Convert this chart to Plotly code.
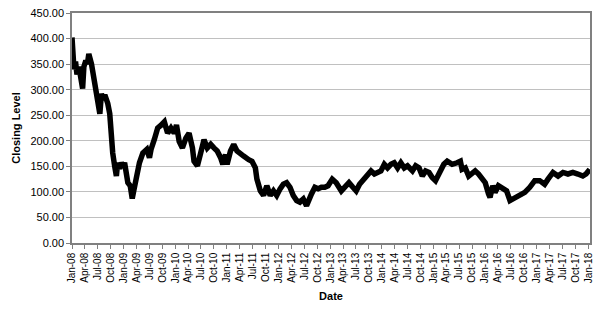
import plotly.graph_objects as go

dates = [
    "2008-01-01", "2008-01-15", "2008-01-26", "2008-02-05", "2008-02-19", "2008-03-04",
    "2008-03-16", "2008-03-25", "2008-04-08", "2008-04-19", "2008-04-29", "2008-05-18",
    "2008-05-31", "2008-06-10", "2008-07-02", "2008-07-16", "2008-07-27", "2008-08-09",
    "2008-08-20", "2008-09-10", "2008-09-24", "2008-10-06", "2008-10-15", "2008-10-29",
    "2008-11-10", "2008-11-19", "2008-12-03", "2008-12-15", "2008-12-28", "2009-01-07",
    "2009-01-19", "2009-01-30", "2009-02-16", "2009-03-02", "2009-03-15", "2009-03-30",
    "2009-04-22", "2009-05-16", "2009-06-13", "2009-07-02", "2009-07-13", "2009-08-06",
    "2009-08-29", "2009-09-20", "2009-10-15", "2009-11-07", "2009-12-01", "2009-12-24",
    "2010-01-09", "2010-01-28", "2010-02-20", "2010-03-16", "2010-04-08", "2010-05-02",
    "2010-05-13", "2010-06-06", "2010-06-29", "2010-07-23", "2010-08-15", "2010-09-08",
    "2010-10-01", "2010-10-24", "2010-11-17", "2010-12-03", "2010-12-22", "2011-01-02",
    "2011-01-26", "2011-02-18", "2011-03-13", "2011-04-06", "2011-04-29", "2011-06-04",
    "2011-06-27", "2011-07-21", "2011-08-01", "2011-08-25", "2011-09-17", "2011-10-10",
    "2011-11-03", "2011-11-26", "2011-12-19", "2012-01-12", "2012-02-04", "2012-02-27",
    "2012-03-22", "2012-04-14", "2012-05-08", "2012-05-31", "2012-06-24", "2012-07-17",
    "2012-07-29", "2012-08-21", "2012-09-14", "2012-10-07", "2012-10-30", "2012-11-23",
    "2012-12-16", "2013-01-15", "2013-02-12", "2013-03-20", "2013-04-12", "2013-05-13",
    "2013-06-10", "2013-07-03", "2013-07-27", "2013-08-19", "2013-09-23", "2013-10-16",
    "2013-11-09", "2013-12-02", "2013-12-25", "2014-01-18", "2014-02-10", "2014-03-06",
    "2014-03-29", "2014-04-22", "2014-05-15", "2014-06-08", "2014-07-01", "2014-08-05",
    "2014-08-28", "2014-09-21", "2014-10-14", "2014-11-06", "2014-11-30", "2014-12-23",
    "2015-01-15", "2015-02-08", "2015-03-15", "2015-04-08", "2015-05-13", "2015-06-17",
    "2015-07-10", "2015-07-22", "2015-08-14", "2015-09-07", "2015-09-30", "2015-10-23",
    "2015-11-16", "2015-12-09", "2016-01-02", "2016-01-25", "2016-02-05", "2016-02-24",
    "2016-03-11", "2016-04-04", "2016-04-27", "2016-06-01", "2016-06-25", "2016-07-30",
    "2016-09-03", "2016-10-08", "2016-11-12", "2016-12-17", "2017-01-21", "2017-02-25",
    "2017-03-21", "2017-04-25", "2017-05-31", "2017-07-05", "2017-08-09", "2017-09-13",
    "2017-10-18", "2017-11-22", "2017-12-15", "2018-01-10",
]

closing = [
    402, 340, 355, 330, 345, 320,
    302, 345, 357, 350, 370, 350,
    330, 311, 286, 253, 292, 280,
    290, 273, 253, 203, 176, 150,
    131, 157, 145, 157, 150, 157,
    131, 118, 112, 87, 105, 131,
    157, 176, 183, 167, 183, 203,
    225, 230, 237, 215, 225, 215,
    231, 199, 186, 205, 215, 186,
    160, 151, 180, 202, 186, 193,
    186, 180, 167, 154, 173, 154,
    180, 193, 180, 173, 170, 163,
    160, 147, 125, 102, 93, 112,
    93, 102, 93, 106, 115, 118,
    109, 93, 83, 80, 86, 73,
    83, 96, 109, 106, 109, 109,
    112, 125, 118, 102, 109, 118,
    109, 102, 115, 122, 135, 141,
    135, 138, 141, 154, 147, 154,
    157, 147, 157, 147, 151, 141,
    151, 147, 131, 141, 138, 128,
    122, 135, 154, 160, 154, 157,
    160, 144, 147, 131, 138, 141,
    135, 128, 118, 96, 89, 112,
    99, 112, 109, 102, 83, 89,
    96, 99, 109, 122, 122, 115,
    125, 138, 131, 138, 135, 138,
    135, 131, 135, 144,
]

y_ticks = [0, 50, 100, 150, 200, 250, 300, 350, 400, 450]

font_family = "Liberation Sans, Arial, sans-serif"

fig = go.Figure()
fig.add_trace(go.Scatter(
    x=dates, y=closing, mode="lines",
    line=dict(color="black", width=5.5),
    showlegend=False,
))

fig.update_layout(
    width=601, height=316,
    margin=dict(l=72, r=7, t=10, b=73),
    paper_bgcolor="white", plot_bgcolor="white",
    font=dict(family=font_family, size=10, color="black"),
    xaxis=dict(
        type="date",
        range=["2008-01-01", "2018-01-12"],
        tick0="2008-01-01", dtick="M3", tickformat="%b-%y",
        tickangle=-90, ticks="outside", ticklen=4, tickcolor="#808080",
        showline=True, linecolor="#808080", linewidth=1.5, mirror=True,
        showgrid=False, zeroline=False,
        title=dict(text="<b>Date</b>", font=dict(size=11), standoff=10),
        tickfont=dict(size=10),
    ),
    yaxis=dict(
        range=[0, 450], tickvals=y_ticks, tickformat=".2f",
        ticks="outside", ticklen=4, tickcolor="#808080",
        showline=True, linecolor="#808080", linewidth=1.5, mirror=True,
        showgrid=True, gridcolor="#c0c0c0", gridwidth=1,
        zeroline=False,
        title=dict(text="<b>Closing Level</b>", font=dict(size=11), standoff=8),
        tickfont=dict(size=11),
    ),
)

fig.write_html("out.html")
